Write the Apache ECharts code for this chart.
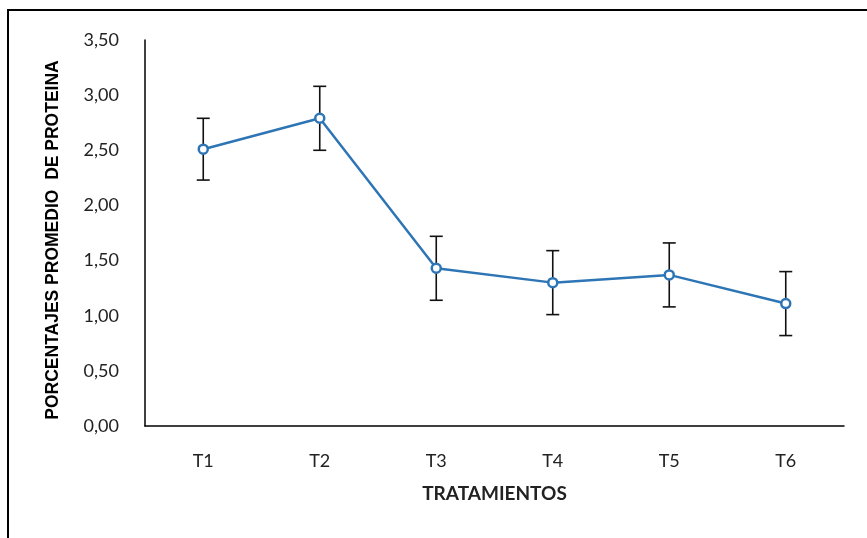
<!DOCTYPE html>
<html>
<head>
<meta charset="utf-8">
<script src="https://cdn.jsdelivr.net/npm/echarts@6/dist/echarts.min.js"></script>
<style>html,body{margin:0;padding:0;background:#fff}#c{width:867px;height:538px}</style>
</head>
<body>
<div id="c"></div>
<script>
const categories = ['T1', 'T2', 'T3', 'T4', 'T5', 'T6'];
const means = [2.51, 2.79, 1.43, 1.30, 1.37, 1.11];
const errors = [0.28, 0.29, 0.29, 0.29, 0.29, 0.29];
const yTicks = { min: 0, max: 3.5, interval: 0.5 };
const yTitle = 'PORCENTAJES PROMEDIO  DE PROTEINA';
const xTitle = 'TRATAMIENTOS';

const errData = categories.map((c, i) => [i, means[i] - errors[i], means[i] + errors[i]]);

const chart = echarts.init(document.getElementById('c'), null, { renderer: 'canvas' });
chart.setOption({
  animation: false,
  backgroundColor: '#ffffff',
  graphic: [{
    type: 'rect', silent: true, z: 100,
    shape: { x: 8, y: 10, width: 920, height: 600 },
    style: { fill: 'none', stroke: '#000', lineWidth: 2 }
  }],
  grid: { left: 145, right: 23, top: 40, bottom: 112 },
  xAxis: {
    type: 'category',
    data: categories,
    name: xTitle,
    nameLocation: 'middle',
    nameGap: 58,
    nameTextStyle: { fontFamily: 'Lato', fontWeight: 'bold', fontSize: 19, color: '#222' },
    axisLine: { lineStyle: { color: '#000', width: 1.5 } },
    axisTick: { show: false },
    axisLabel: { margin: 26, fontFamily: 'Lato', fontSize: 18, color: '#222' }
  },
  yAxis: {
    type: 'value',
    min: yTicks.min, max: yTicks.max, interval: yTicks.interval,
    name: yTitle,
    nameLocation: 'middle',
    nameGap: 83,
    nameRotate: 90,
    nameTextStyle: { fontFamily: 'Liberation Sans', fontWeight: 'bold', fontSize: 17.5, color: '#000', padding: [0, 14, 0, 0] },
    axisLine: { show: true, lineStyle: { color: '#000', width: 1.5 } },
    axisTick: { show: false },
    splitLine: { show: false },
    axisLabel: {
      margin: 26, fontFamily: 'Lato', fontSize: 18, color: '#222',
      formatter: v => v.toFixed(2).replace('.', ',')
    }
  },
  series: [
    {
      type: 'line',
      data: means,
      symbol: 'circle',
      symbolSize: 9,
      lineStyle: { color: '#2E75B6', width: 2.5 },
      itemStyle: { color: '#ffffff', borderColor: '#2E75B6', borderWidth: 2.5 },
      z: 3
    },
    {
      type: 'custom',
      data: errData,
      z: 2,
      renderItem: function (params, api) {
        const x = api.value(0);
        const lo = api.coord([x, api.value(1)]);
        const hi = api.coord([x, api.value(2)]);
        const w = 6.5;
        const st = { stroke: '#111', lineWidth: 1.6 };
        return {
          type: 'group',
          children: [
            { type: 'line', shape: { x1: lo[0], y1: lo[1], x2: hi[0], y2: hi[1] }, style: st },
            { type: 'line', shape: { x1: lo[0] - w, y1: lo[1], x2: lo[0] + w, y2: lo[1] }, style: st },
            { type: 'line', shape: { x1: hi[0] - w, y1: hi[1], x2: hi[0] + w, y2: hi[1] }, style: st }
          ]
        };
      }
    }
  ]
});
</script>
</body>
</html>
